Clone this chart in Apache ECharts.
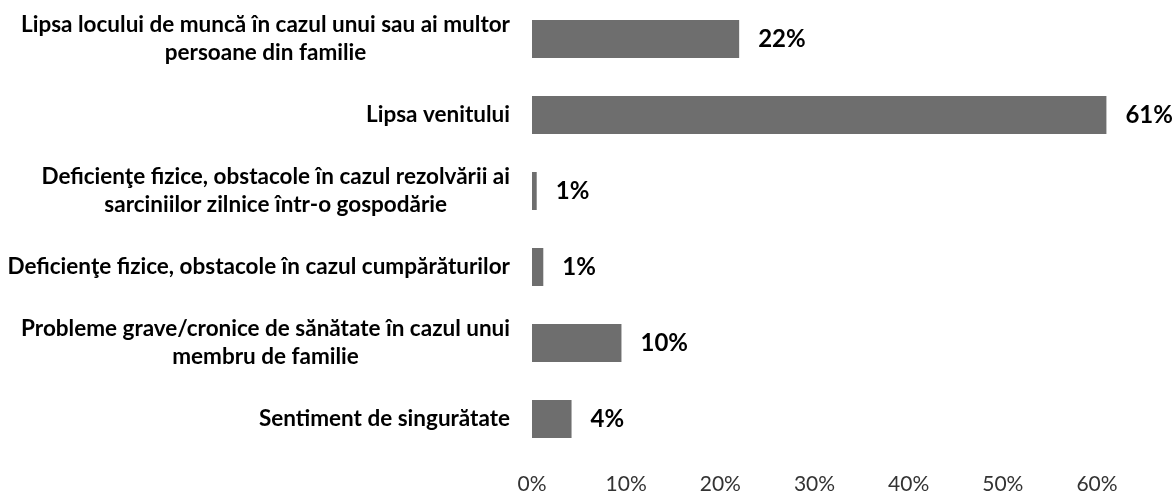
<!DOCTYPE html>
<html>
<head>
<meta charset="utf-8">
<script src="https://cdn.jsdelivr.net/npm/echarts@6/dist/echarts.min.js"></script>
<style>
  html, body { margin: 0; padding: 0; background: #fff; }
  #chart { width: 1172px; height: 497px; }
</style>
</head>
<body>
<div id="chart"></div>
<script>
// categories, top to bottom
var categories = [
  'Lipsa locului de muncă în cazul unui sau ai multor\npersoane din familie',
  'Lipsa venitului',
  'Deficienţe fizice, obstacole în cazul rezolvării ai\nsarciniilor zilnice într-o gospodărie',
  'Deficienţe fizice, obstacole în cazul cumpărăturilor',
  'Probleme grave/cronice de sănătate în cazul unui\nmembru de familie',
  'Sentiment de singurătate'
];
// bar lengths (percent)
var values = [22, 61, 0.5, 1.2, 9.5, 4.2];
// labels printed next to the bars
var valueLabels = ['22%', '61%', '1%', '1%', '10%', '4%'];

var chart = echarts.init(document.getElementById('chart'));

var option = {
  animation: false,
  grid: {
    left: 532,
    right: 75,
    top: 1,
    bottom: 40,
    containLabel: false
  },
  xAxis: {
    type: 'value',
    min: 0,
    max: 60,
    interval: 10,
    splitLine: { show: false },
    axisLine: { show: false },
    axisTick: { show: false },
    axisLabel: {
      formatter: '{value}%',
      color: '#333',
      fontFamily: 'Lato',
      fontSize: 21,
      margin: 17
    }
  },
  yAxis: {
    type: 'category',
    inverse: true,
    data: categories,
    axisLine: { show: false },
    axisTick: { show: false },
    axisLabel: {
      margin: 22,
      align: 'right',
      // each line centred inside the right-aligned block
      formatter: function (v) {
        return v.split('\n').map(function (s) { return '{c|' + s + '}'; }).join('\n');
      },
      rich: {
        c: {
          align: 'center',
          color: '#000',
          fontFamily: 'Lato',
          fontWeight: 'bold',
          fontSize: 22.5,
          lineHeight: 28
        }
      }
    }
  },
  series: [{
    type: 'bar',
    data: values,
    barWidth: 38,
    clip: false,
    itemStyle: { color: '#6e6e6e' },
    label: {
      show: true,
      position: 'right',
      distance: 19,
      color: '#000',
      fontFamily: 'Lato',
      fontWeight: 'bold',
      fontSize: 24,
      formatter: function (p) { return valueLabels[p.dataIndex]; }
    }
  }]
};

chart.setOption(option);
</script>
</body>
</html>
